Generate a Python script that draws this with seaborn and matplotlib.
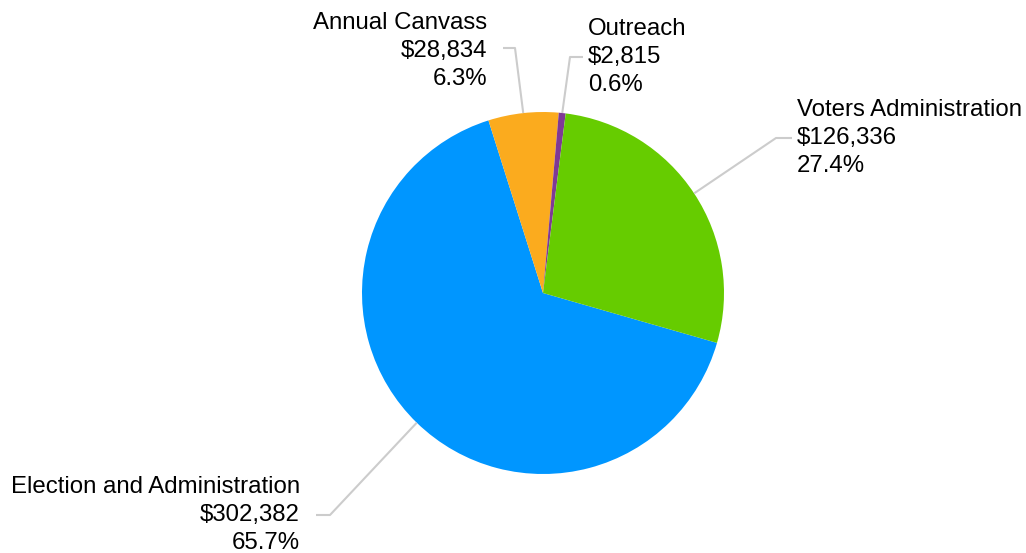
import numpy as np
import seaborn as sns
import matplotlib.pyplot as plt

categories = ['Election and Administration', 'Annual Canvass', 'Outreach', 'Voters Administration']
amounts = [302382, 28834, 2815, 126336]
colors = ['#0096ff', '#fbab1e', '#7f3995', '#66cc00']

sns.set_theme(style='white')
plt.rcParams['font.family'] = ['Liberation Sans', 'DejaVu Sans']

fig = plt.figure(figsize=(10.26, 5.53), dpi=100)
ax = fig.add_axes([0, 0, 1, 1])

# pixel helpers: pie centre at (543, 293), radius 181 px
cx, cy, r = 543, 293, 181
def X(px):
    return (px - cx) / r
def Y(py):
    return (cy - py) / r

start = -16
wedges, _ = ax.pie(amounts, colors=colors, startangle=start, counterclock=False,
                   radius=1, center=(0, 0), wedgeprops=dict(linewidth=0))

ax.set_xlim(X(0), X(1026))
ax.set_ylim(Y(553), Y(0))
ax.set_aspect('auto')
ax.axis('off')

total = sum(amounts)
# label layout: (text x px, text y px, ha, elbow px, end px)
layout = {
    'Election and Administration': (300, 515, 'right', (330, 515), (316, 515)),
    'Annual Canvass': (487, 51, 'right', (515, 48), (503, 48)),
    'Outreach': (588, 57, 'left', (570, 57), (583, 57)),
    'Voters Administration': (797, 138, 'left', (776, 138), (792, 138)),
}

for w, name, val in zip(wedges, categories, amounts):
    mid = np.deg2rad((w.theta1 + w.theta2) / 2)
    px, py = np.cos(mid), np.sin(mid)
    tx, ty, ha, elbow, end = layout[name]
    ax.plot([px, X(elbow[0]), X(end[0])], [py, Y(elbow[1]), Y(end[1])],
            color='#cccccc', lw=1.5, solid_capstyle='butt')
    label = f'{name}\n${val:,}\n{val / total * 100:.1f}%'
    ax.text(X(tx), Y(ty), label, ha=ha, va='center', multialignment=ha,
            fontsize=17.3, color='#000000', linespacing=1.38)

plt.savefig('out.png', dpi=100)
